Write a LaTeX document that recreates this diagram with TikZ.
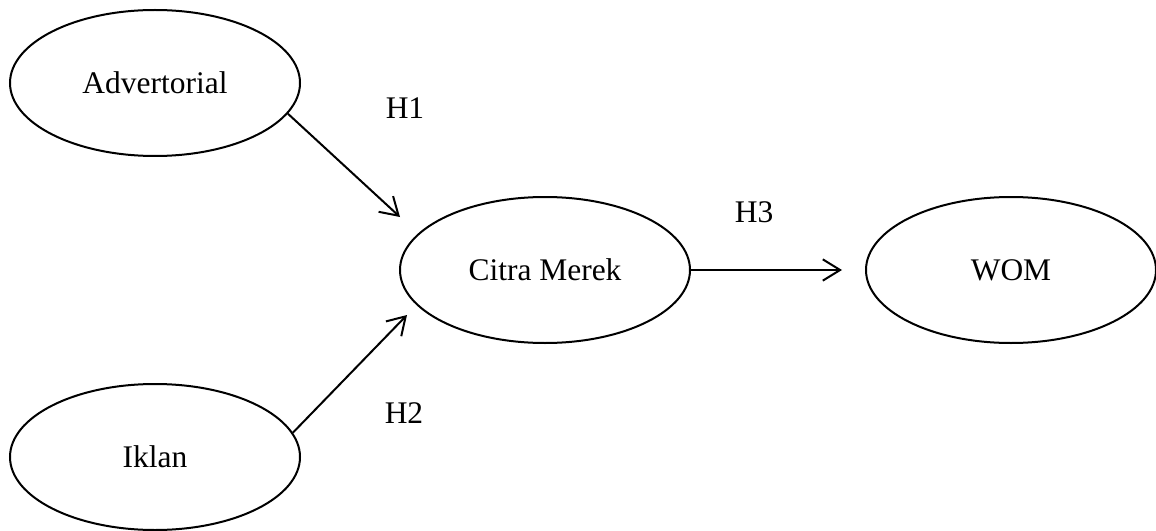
\documentclass[tikz,border=0pt]{standalone}
\usepackage{fontspec}
\setmainfont{Liberation Serif}
\usetikzlibrary{shapes.geometric,arrows.meta}

\tikzset{
  var/.style={draw,ellipse,line width=1.5pt,minimum width=217.5pt,
    minimum height=109.5pt,inner sep=0pt,font=\fontsize{23.6}{28}\selectfont},
  hyp/.style={font=\fontsize{23.6}{28}\selectfont},
  link/.style={line width=1.5pt,-{Straight Barb[length=13pt,width=16pt,line width=1.5pt]}}
}

\begin{document}
\begin{tikzpicture}[x=0.75pt,y=-0.75pt]
    \useasboundingbox (0,0) rectangle (1156,531);
    \node[var] (adv) at (155,83) {Advertorial};
    \node[var] (ikl) at (155,457) {Iklan};
    \node[var] (cm) at (545,270) {Citra Merek};
    \node[var] (wom) at (1011,270) {WOM};
    \coordinate (h1end) at (400,217);
    \coordinate (h2end) at (407,315);
    \coordinate (h3end) at (842,270);
    \draw[link] (adv.-13) -- (h1end);
    \draw[link] (ikl.10) -- (h2end);
    \draw[link] (cm.east) -- (h3end);
    \node[hyp] (h1) at (405,108) {H1};
    \node[hyp] (h2) at (404,413) {H2};
    \node[hyp] (h3) at (754,212) {H3};
  \end{tikzpicture}
\end{document}
